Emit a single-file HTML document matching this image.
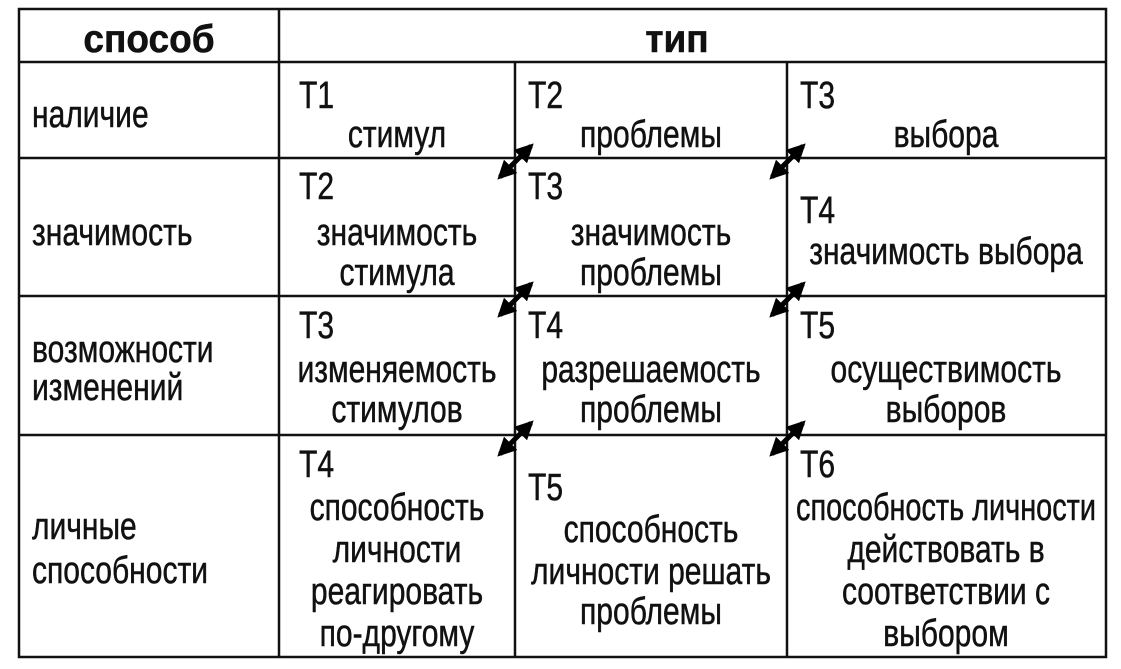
<!DOCTYPE html>
<html><head><meta charset="utf-8"><style>
html,body{margin:0;padding:0;background:#fff;}
svg{display:block;}
text{font-family:"Liberation Sans Narrow","Liberation Sans",sans-serif;font-size:38px;fill:#111;stroke:#111;stroke-width:0.5;}
.b{font-weight:bold;font-size:39px;}
.m{text-anchor:middle;}
</style></head><body>
<svg width="1121" height="669" viewBox="0 0 1121 669" xmlns="http://www.w3.org/2000/svg">
<defs>
<marker id="ah" viewBox="0 0 10 10" refX="8" refY="5" markerWidth="3.8" markerHeight="3.8" orient="auto-start-reverse">
<path d="M0,0 L10,5 L0,10 z" fill="#000"/>
</marker>
</defs>
<g stroke="#111" stroke-width="2.5" fill="none">
<rect x="19" y="9" width="1087" height="648"/>
<line x1="279" y1="9" x2="279" y2="657"/>
<line x1="515" y1="62" x2="515" y2="657"/>
<line x1="787" y1="62" x2="787" y2="657"/>
<line x1="19" y1="62" x2="1106" y2="62"/>
<line x1="19" y1="158" x2="1106" y2="158"/>
<line x1="19" y1="296" x2="1106" y2="296"/>
<line x1="19" y1="435" x2="1106" y2="435"/>
</g>
<g stroke="#000" stroke-width="5">
<line x1="500" y1="177" x2="531" y2="146" marker-start="url(#ah)" marker-end="url(#ah)"/>
<line x1="772" y1="177" x2="803" y2="146" marker-start="url(#ah)" marker-end="url(#ah)"/>
<line x1="500" y1="315" x2="531" y2="284" marker-start="url(#ah)" marker-end="url(#ah)"/>
<line x1="772" y1="315" x2="803" y2="284" marker-start="url(#ah)" marker-end="url(#ah)"/>
<line x1="500" y1="454" x2="531" y2="423" marker-start="url(#ah)" marker-end="url(#ah)"/>
<line x1="772" y1="454" x2="803" y2="423" marker-start="url(#ah)" marker-end="url(#ah)"/>
</g>
<g>
<text class="b m" transform="translate(149 52) scale(.95 1)">способ</text>
<text class="b m" transform="translate(677 52) scale(.95 1)">тип</text>

<text transform="translate(32 127) scale(.79 1)">наличие</text>
<text transform="translate(299 108) scale(.79 1)">T1</text><text class="m" transform="translate(397 147) scale(.79 1)">стимул</text>
<text transform="translate(528 108) scale(.79 1)">T2</text><text class="m" transform="translate(651 147) scale(.79 1)">проблемы</text>
<text transform="translate(800 108) scale(.79 1)">T3</text><text class="m" transform="translate(946 147) scale(.79 1)">выбора</text>

<text transform="translate(32 245) scale(.79 1)">значимость</text>
<text transform="translate(299 199) scale(.79 1)">T2</text><text class="m" transform="translate(397 245) scale(.79 1)">значимость</text><text class="m" transform="translate(397 285) scale(.79 1)">стимула</text>
<text transform="translate(528 199) scale(.79 1)">T3</text><text class="m" transform="translate(651 245) scale(.79 1)">значимость</text><text class="m" transform="translate(651 285) scale(.79 1)">проблемы</text>
<text transform="translate(800 223) scale(.79 1)">T4</text><text class="m" transform="translate(946 264) scale(.79 1)">значимость выбора</text>

<text transform="translate(32 362) scale(.79 1)">возможности</text><text transform="translate(32 400) scale(.79 1)">изменений</text>
<text transform="translate(299 338) scale(.79 1)">T3</text><text class="m" transform="translate(397 382) scale(.79 1)">изменяемость</text><text class="m" transform="translate(397 422) scale(.79 1)">стимулов</text>
<text transform="translate(528 338) scale(.79 1)">T4</text><text class="m" transform="translate(651 382) scale(.79 1)">разрешаемость</text><text class="m" transform="translate(651 422) scale(.79 1)">проблемы</text>
<text transform="translate(800 338) scale(.79 1)">T5</text><text class="m" transform="translate(946 382) scale(.79 1)">осуществимость</text><text class="m" transform="translate(946 422) scale(.79 1)">выборов</text>

<text transform="translate(32 539) scale(.79 1)">личные</text><text transform="translate(32 583) scale(.79 1)">способности</text>
<text transform="translate(299 477) scale(.79 1)">T4</text>
<text class="m" transform="translate(397 520) scale(.79 1)">способность</text><text class="m" transform="translate(397 562) scale(.79 1)">личности</text><text class="m" transform="translate(397 604) scale(.79 1)">реагировать</text><text class="m" transform="translate(397 646) scale(.79 1)">по-другому</text>
<text transform="translate(528 500) scale(.79 1)">T5</text>
<text class="m" transform="translate(651 542) scale(.79 1)">способность</text><text class="m" transform="translate(651 584) scale(.79 1)">личности решать</text><text class="m" transform="translate(651 624) scale(.79 1)">проблемы</text>
<text transform="translate(800 477) scale(.79 1)">T6</text>
<text class="m" transform="translate(946 520) scale(.76 1)">способность личности</text><text class="m" transform="translate(946 562) scale(.79 1)">действовать в</text><text class="m" transform="translate(946 604) scale(.79 1)">соответствии с</text><text class="m" transform="translate(946 646) scale(.79 1)">выбором</text>
</g>
</svg>
</body></html>
